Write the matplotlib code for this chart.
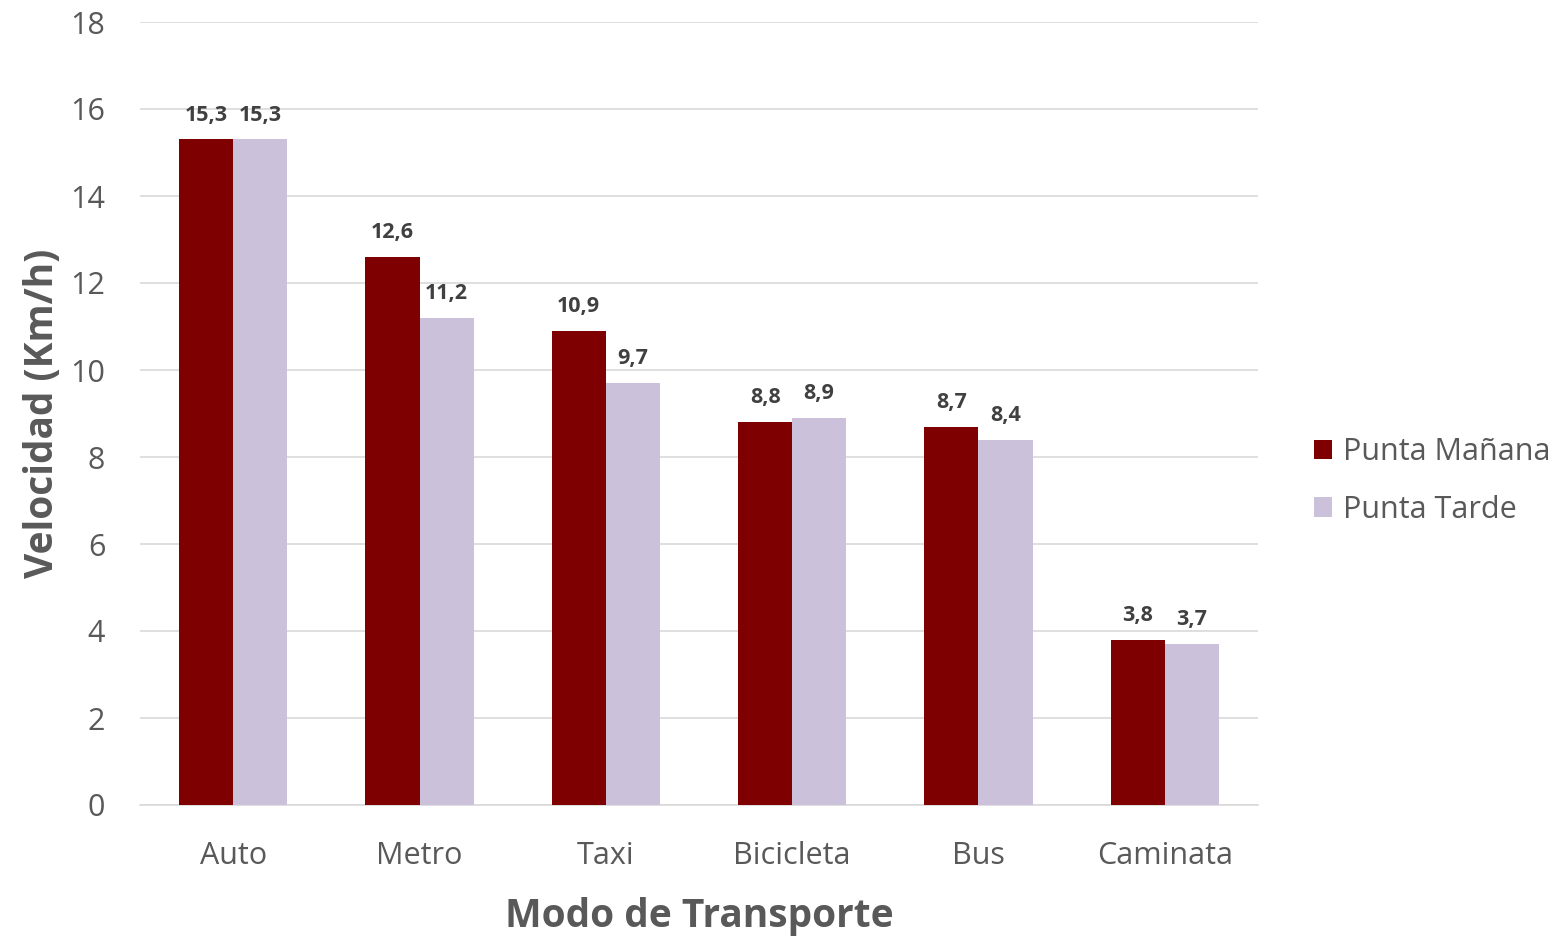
import matplotlib
matplotlib.use("Agg")
import matplotlib.pyplot as plt
import numpy as np

categories = ["Auto", "Metro", "Taxi", "Bicicleta", "Bus", "Caminata"]
manana = [15.3, 12.6, 10.9, 8.8, 8.7, 3.8]
tarde = [15.3, 11.2, 9.7, 8.9, 8.4, 3.7]
series_names = ["Punta Mañana", "Punta Tarde"]
yticks = [0, 2, 4, 6, 8, 10, 12, 14, 16, 18]

plt.rcParams['font.family'] = ['Open Sans', 'DejaVu Sans']

fig = plt.figure(figsize=(15.64, 9.36), dpi=100)
ax = fig.add_axes([140/1564, 1-805/936, (1258-140)/1564, (805-22)/936])

x = np.arange(len(categories))
w = 0.29
c1 = "#7F0000"
c2 = "#CCC1DA"
b1 = ax.bar(x - w/2, manana, w, color=c1, label=series_names[0], zorder=3)
b2 = ax.bar(x + w/2, tarde, w, color=c2, label=series_names[1], zorder=3)

def fmt(v):
    return f"{v:.1f}".replace(".", ",")

for bars, vals in ((b1, manana), (b2, tarde)):
    for r, v in zip(bars, vals):
        ax.annotate(fmt(v), (r.get_x() + r.get_width()/2, v), xytext=(0, 10),
                    textcoords="offset points", ha="center", va="bottom",
                    fontsize=15.5, fontweight="bold", color="#404040")

ax.set_xlim(-0.5, len(categories) - 0.5)
ax.set_ylim(0, 18)
ax.set_yticks(yticks)
ax.set_yticklabels([str(t) for t in yticks])
ax.set_xticks(x)
ax.set_xticklabels(categories)
ax.yaxis.grid(True, color="#D9D9D9", linewidth=1.2, zorder=0)
ax.set_axisbelow(True)
for s in ["top", "right", "left"]:
    ax.spines[s].set_visible(False)
ax.spines["bottom"].set_color("#D9D9D9")
ax.spines["bottom"].set_linewidth(1.2)
ax.tick_params(axis="both", length=0, labelsize=22, labelcolor="#595959")
ax.tick_params(axis="x", pad=26)
ax.tick_params(axis="y", pad=25)

ax.set_xlabel("Modo de Transporte", fontsize=28, fontweight="bold", color="#595959", labelpad=19)
ax.set_ylabel("Velocidad (Km/h)", fontsize=28, fontweight="bold", color="#595959", labelpad=6)

leg = fig.legend(handles=[b1, b2], labels=series_names, loc="center left",
                 bbox_to_anchor=(1286/1564, 1-481/936), frameon=False,
                 fontsize=22, handlelength=0.6, handleheight=0.6,
                 handletextpad=0.35, labelspacing=0.9, labelcolor="#595959")

fig.savefig("out.png", dpi=100, facecolor="white")
